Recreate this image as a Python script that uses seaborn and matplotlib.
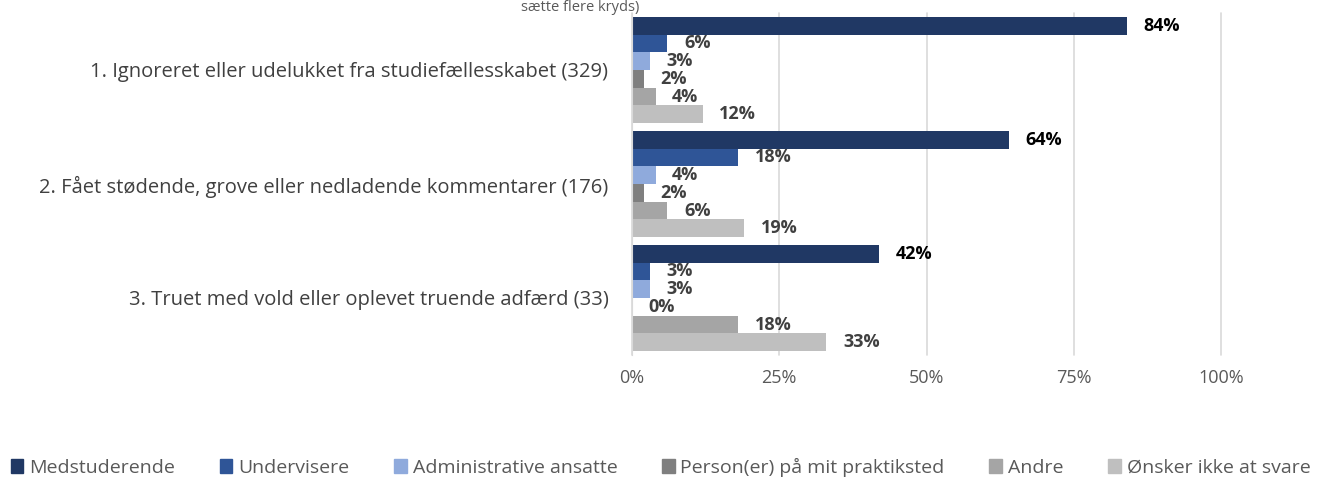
import matplotlib
matplotlib.use("Agg")
import matplotlib.pyplot as plt
import seaborn as sns
import pandas as pd

categories = [
    "1. Ignoreret eller udelukket fra studiefællesskabet (329)",
    "2. Fået stødende, grove eller nedladende kommentarer (176)",
    "3. Truet med vold eller oplevet truende adfærd (33)",
]
groups = ["Medstuderende", "Undervisere", "Administrative ansatte",
          "Person(er) på mit praktiksted", "Andre", "Ønsker ikke at svare"]
medstuderende = [84, 64, 42]
undervisere = [6, 18, 3]
administrative = [3, 4, 3]
praktiksted = [2, 2, 0]
andre = [4, 6, 18]
oensker = [12, 19, 33]
colors = ["#203864", "#2F5597", "#8FAADC", "#7F7F7F", "#A5A5A5", "#BFBFBF"]

series = [medstuderende, undervisere, administrative, praktiksted, andre, oensker]
rows = []
for g, vals in zip(groups, series):
    for c, v in zip(categories, vals):
        rows.append({"Kategori": c, "Gruppe": g, "Andel": v})
df = pd.DataFrame(rows)

sns.set_style("white")
plt.rcParams["font.family"] = ["Open Sans", "DejaVu Sans"]

fig = plt.figure(figsize=(13.21, 4.79), dpi=100)
ax = fig.add_axes([632 / 1321, 1 - 355 / 479, (1221 - 632) / 1321, (355 - 13) / 479])

sns.barplot(data=df, y="Kategori", x="Andel", hue="Gruppe", hue_order=groups,
            order=categories, palette=colors, width=0.93, orient="h",
            saturation=1, linewidth=0, ax=ax, legend=False)

for i, cont in enumerate(ax.containers):
    ax.bar_label(cont, labels=[f"{v:.0f}%" for v in cont.datavalues], padding=12,
                 fontsize=13, fontweight="bold",
                 color="black" if i == 0 else "#404040")

ax.set_xlim(0, 100)
ax.set_xticks([0, 25, 50, 75, 100])
ax.set_xticklabels(["0%", "25%", "50%", "75%", "100%"], fontsize=13, color="#595959")
ax.tick_params(axis="x", length=0, pad=10)
ax.tick_params(axis="y", length=0, pad=17, labelsize=14.5, labelcolor="#404040")
ax.set_xlabel("")
ax.set_ylabel("")
ax.grid(axis="x", color="#D9D9D9", linewidth=1.2)
for gl in ax.get_xgridlines():
    gl.set_clip_on(False)
ax.set_axisbelow(True)
for s in ["top", "right", "bottom"]:
    ax.spines[s].set_visible(False)
ax.spines["left"].set_color("#D9D9D9")

fig.text(580 / 1321, 1 - 11 / 479, "sætte flere kryds)", ha="center", va="baseline",
         fontsize=10.5, color="#595959")

handles = [plt.Rectangle((0, 0), 1, 1, color=c) for c in colors]
fig.legend(handles, groups, loc="center", bbox_to_anchor=(0.5, 1 - 467 / 479), ncol=6,
           frameon=False, fontsize=14, labelcolor="#595959", handlelength=0.65,
           handleheight=0.75, handletextpad=0.3, columnspacing=2.3)

fig.savefig("out.png", dpi=100)
